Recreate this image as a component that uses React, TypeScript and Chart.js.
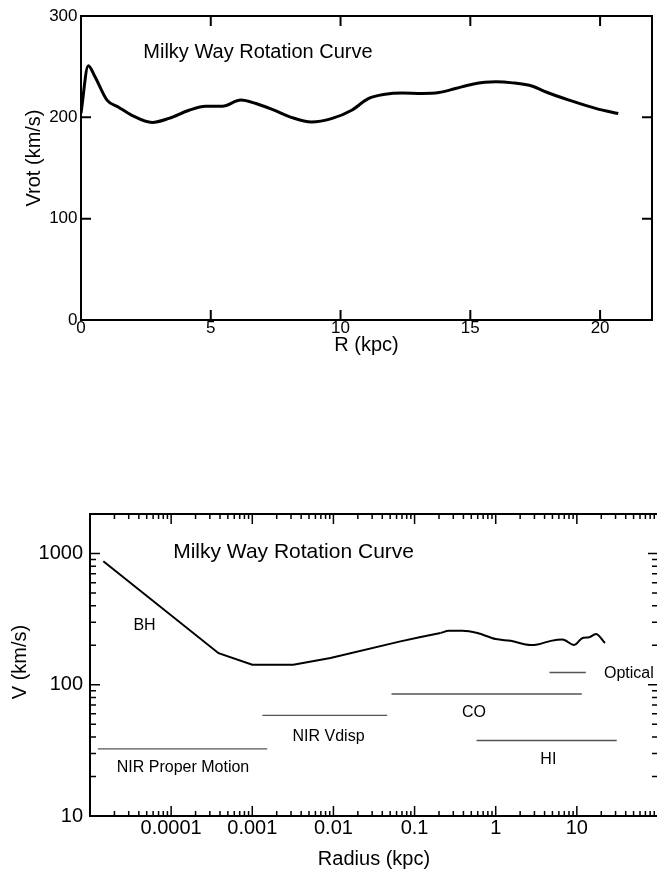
import React, { useEffect, useRef } from 'react';
import { Chart, registerables } from 'chart.js';
Chart.register(...registerables);

const FONT = "'Liberation Sans', Arial, Helvetica, sans-serif";

// ---------- Top chart (linear) ----------
const R_TOP = [0, 0.28, 0.54, 1.0, 1.45, 1.96, 2.74, 3.39, 4.16, 4.8, 5.45, 6.16, 6.74, 7.39, 8.1, 8.88, 9.65, 10.43, 11.07, 11.72, 12.36, 13.14, 13.79, 14.43, 15.08, 15.98, 16.63, 17.4, 17.92, 18.83, 19.86, 20.7];
const V_TOP = [204, 251, 240, 217, 210, 202, 195, 199, 207, 211, 211, 217, 213.6, 207.6, 200, 195.4, 198.7, 207, 218.5, 222.8, 224, 223.5, 224.4, 228.4, 232.7, 235, 234, 230.7, 225, 216.8, 208.6, 203.7];
const TOP_X_TICKS = [0, 5, 10, 15, 20];
const TOP_Y_TICKS = [0, 100, 200, 300];
const TOP_X_MARKS = [5, 10, 15, 20];
const TOP_Y_MARKS = [100, 200];
const TOP_TITLE = 'Milky Way Rotation Curve';
const TOP_TITLE_R = 2.4;
const TOP_TITLE_V = 264;

// ---------- Bottom chart (log-log) ----------
// inner part: straight segments (BH Keplerian part + bulge rise)
const R_BOT_INNER = [1.46e-5, 3.84e-4, 1.0e-3, 3.2e-3, 9.2e-3, 0.067, 0.119, 0.209];
const V_BOT_INNER = [873, 174, 142, 142, 160, 214, 231, 248];
// outer part: smooth wiggles
const R_BOT_OUTER = [0.209, 0.265, 0.388, 0.594, 1.0, 1.53, 2.71, 3.27, 4.78, 6.65, 9.27, 11.75, 14.2, 17.2, 22.2];
const V_BOT_OUTER = [248, 258, 258, 248, 223, 216, 201, 203, 216, 221, 201, 227, 230, 244, 208];

const RANGE_NAMES = ['NIR Proper Motion', 'NIR Vdisp', 'CO', 'HI', 'Optical'];
const RANGE_START = [1.25e-5, 0.00133, 0.052, 0.58, 4.6];
const RANGE_END = [0.00153, 0.046, 11.5, 31, 12.9];
const RANGE_V = [32.5, 58.4, 85, 37.6, 124];

const LABEL_TEXT = ['BH', 'NIR Proper Motion', 'NIR Vdisp', 'CO', 'HI', 'Optical'];
const LABEL_R = [4.7e-5, 1.4e-4, 0.0087, 0.54, 4.45, 43.8];
const LABEL_V = [284, 23.4, 40.4, 61.6, 26.7, 122.7];

const BOT_X_TICKS = [0.0001, 0.001, 0.01, 0.1, 1, 10];
const BOT_X_LABELS = ['0.0001', '0.001', '0.01', '0.1', '1', '10'];
const BOT_Y_TICKS = [10, 100, 1000];
const BOT_Y_LABELS = ['10', '100', '1000'];
const BOT_TITLE = 'Milky Way Rotation Curve';
const BOT_TITLE_R = 1.06e-4;
const BOT_TITLE_V = 1026;

type Mark = { v: number; len: number };
type TextItem = { text: string; x: number; y: number; size: number; align: CanvasTextAlign };
type DecorCfg = {
  frame: number;
  tickWidth: number;
  xMarks: Mark[];
  yMarks: Mark[];
  texts: TextItem[];
  yTitle: string;
  yTitleX: number;
  yTitleY: number;
  yTitleSize: number;
};

function logMarks(fromExp: number, toExp: number, major: number, minor: number): Mark[] {
  const out: Mark[] = [];
  for (let e = fromExp; e <= toExp; e++) {
    const base = Math.pow(10, e);
    out.push({ v: base, len: major });
    if (e < toExp) for (let k = 2; k <= 9; k++) out.push({ v: k * base, len: minor });
  }
  return out;
}

function makeDecor(cfg: DecorCfg) {
  return {
    id: 'decor',
    afterDraw(chart: any) {
      const { ctx, chartArea: a, scales } = chart;
      const xs = scales.x;
      const ys = scales.y;
      ctx.save();
      ctx.strokeStyle = '#000';
      ctx.fillStyle = '#000';
      ctx.lineWidth = cfg.tickWidth;
      ctx.beginPath();
      for (const m of cfg.xMarks) {
        const p = xs.getPixelForValue(m.v);
        if (p < a.left + 1 || p > a.right - 1) continue;
        ctx.moveTo(p, a.bottom);
        ctx.lineTo(p, a.bottom - m.len);
        ctx.moveTo(p, a.top);
        ctx.lineTo(p, a.top + m.len);
      }
      for (const m of cfg.yMarks) {
        const p = ys.getPixelForValue(m.v);
        if (p < a.top + 1 || p > a.bottom - 1) continue;
        ctx.moveTo(a.left, p);
        ctx.lineTo(a.left + m.len, p);
        ctx.moveTo(a.right, p);
        ctx.lineTo(a.right - m.len, p);
      }
      ctx.stroke();
      ctx.lineWidth = cfg.frame;
      ctx.strokeRect(a.left, a.top, a.right - a.left, a.bottom - a.top);
      ctx.textBaseline = 'middle';
      for (const t of cfg.texts) {
        ctx.font = `${t.size}px ${FONT}`;
        ctx.textAlign = t.align;
        ctx.fillText(t.text, xs.getPixelForValue(t.x), ys.getPixelForValue(t.y));
      }
      ctx.translate(cfg.yTitleX, cfg.yTitleY);
      ctx.rotate(-Math.PI / 2);
      ctx.textAlign = 'center';
      ctx.font = `${cfg.yTitleSize}px ${FONT}`;
      ctx.fillText(cfg.yTitle, 0, 0);
      ctx.restore();
    },
  };
}

export default function App() {
  const topRef = useRef<HTMLCanvasElement>(null);
  const botRef = useRef<HTMLCanvasElement>(null);

  useEffect(() => {
    Chart.defaults.font.family = FONT;
    Chart.defaults.color = '#000';

    // ---- top chart ----
    const topDecor = makeDecor({
      frame: 2,
      tickWidth: 2,
      xMarks: TOP_X_MARKS.map((v) => ({ v, len: 10 })),
      yMarks: TOP_Y_MARKS.map((v) => ({ v, len: 10 })),
      texts: [{ text: TOP_TITLE, x: TOP_TITLE_R, y: TOP_TITLE_V, size: 20, align: 'left' }],
      yTitle: 'Vrot (km/s)',
      yTitleX: 34,
      yTitleY: 158,
      yTitleSize: 20,
    });
    const top = new Chart(topRef.current!, {
      type: 'line',
      data: {
        datasets: [
          {
            data: R_TOP.map((r, i) => ({ x: r, y: V_TOP[i] })),
            borderColor: '#000',
            borderWidth: 3,
            pointRadius: 0,
            cubicInterpolationMode: 'monotone',
            fill: false,
          },
        ],
      },
      options: {
        animation: false,
        responsive: false,
        devicePixelRatio: 1,
        layout: { padding: { top: 16, right: 5, left: 0, bottom: 0 } },
        plugins: { legend: { display: false }, tooltip: { enabled: false } },
        scales: {
          x: {
            type: 'linear',
            min: 0,
            max: 22,
            grid: { display: false, drawTicks: false },
            border: { display: false },
            afterBuildTicks: (s: any) => {
              s.ticks = TOP_X_TICKS.map((v) => ({ value: v }));
            },
            afterFit: (s: any) => {
              s.height = 45;
            },
            ticks: { font: { size: 17 }, padding: -2, maxRotation: 0, autoSkip: false, color: '#000' },
            title: { display: true, text: 'R (kpc)', font: { size: 20 }, color: '#000', padding: { top: 0, bottom: 8 } },
          },
          y: {
            type: 'linear',
            min: 0,
            max: 300,
            grid: { display: false, drawTicks: false },
            border: { display: false },
            afterBuildTicks: (s: any) => {
              s.ticks = TOP_Y_TICKS.map((v) => ({ value: v }));
            },
            afterFit: (s: any) => {
              s.width = 81;
            },
            ticks: { font: { size: 17 }, padding: 3.5, color: '#000' },
          },
        },
      } as any,
      plugins: [topDecor],
    });

    // ---- bottom chart ----
    const botDecor = makeDecor({
      frame: 2,
      tickWidth: 1.5,
      xMarks: logMarks(-5, 2, 10, 5),
      yMarks: logMarks(1, 3, 10, 6),
      texts: [
        { text: BOT_TITLE, x: BOT_TITLE_R, y: BOT_TITLE_V, size: 21, align: 'left' },
        ...LABEL_TEXT.map((t, i) => ({ text: t, x: LABEL_R[i], y: LABEL_V[i], size: 16, align: 'center' as CanvasTextAlign })),
      ],
      yTitle: 'V (km/s)',
      yTitleX: 20.5,
      yTitleY: 222,
      yTitleSize: 20,
    });
    const bot = new Chart(botRef.current!, {
      type: 'line',
      data: {
        datasets: [
          {
            label: 'inner',
            data: R_BOT_INNER.map((r, i) => ({ x: r, y: V_BOT_INNER[i] })),
            borderColor: '#000',
            borderWidth: 2,
            pointRadius: 0,
            tension: 0,
            fill: false,
          },
          {
            label: 'outer',
            data: R_BOT_OUTER.map((r, i) => ({ x: r, y: V_BOT_OUTER[i] })),
            borderColor: '#000',
            borderWidth: 2,
            pointRadius: 0,
            cubicInterpolationMode: 'monotone',
            fill: false,
          },
          ...RANGE_NAMES.map((name, i) => ({
            label: name,
            data: [
              { x: RANGE_START[i], y: RANGE_V[i] },
              { x: RANGE_END[i], y: RANGE_V[i] },
            ],
            borderColor: '#555',
            borderWidth: 1.3,
            pointRadius: 0,
            fill: false,
          })),
        ],
      },
      options: {
        animation: false,
        responsive: false,
        devicePixelRatio: 1,
        layout: { padding: { top: 74, right: 12, left: 0, bottom: 0 } },
        plugins: { legend: { display: false }, tooltip: { enabled: false } },
        scales: {
          x: {
            type: 'logarithmic',
            min: 1e-5,
            max: 100,
            grid: { display: false, drawTicks: false },
            border: { display: false },
            afterBuildTicks: (s: any) => {
              s.ticks = BOT_X_TICKS.map((v) => ({ value: v }));
            },
            afterFit: (s: any) => {
              s.height = 55;
            },
            ticks: {
              font: { size: 20 },
              padding: 0,
              maxRotation: 0,
              autoSkip: false,
              color: '#000',
              callback: (_v: any, i: number) => BOT_X_LABELS[i],
            },
            title: { display: true, text: 'Radius (kpc)', font: { size: 20 }, color: '#000', padding: { top: 0, bottom: 0 } },
          },
          y: {
            type: 'logarithmic',
            min: 10,
            max: 2000,
            grid: { display: false, drawTicks: false },
            border: { display: false },
            afterBuildTicks: (s: any) => {
              s.ticks = BOT_Y_TICKS.map((v) => ({ value: v }));
            },
            afterFit: (s: any) => {
              s.width = 90;
            },
            ticks: {
              font: { size: 20 },
              padding: 7,
              color: '#000',
              callback: (_v: any, i: number) => BOT_Y_LABELS[i],
            },
          },
        },
      } as any,
      plugins: [botDecor],
    });

    return () => {
      top.destroy();
      bot.destroy();
    };
  }, []);

  return (
    <div style={{ position: 'absolute', left: 0, top: 0, width: 657, height: 871, overflow: 'hidden', background: '#fff' }}>
      <canvas ref={topRef} width={657} height={365} style={{ position: 'absolute', left: 0, top: 0, width: 657, height: 365 }} />
      <canvas ref={botRef} width={670} height={431} style={{ position: 'absolute', left: 0, top: 440, width: 670, height: 431 }} />
    </div>
  );
}
